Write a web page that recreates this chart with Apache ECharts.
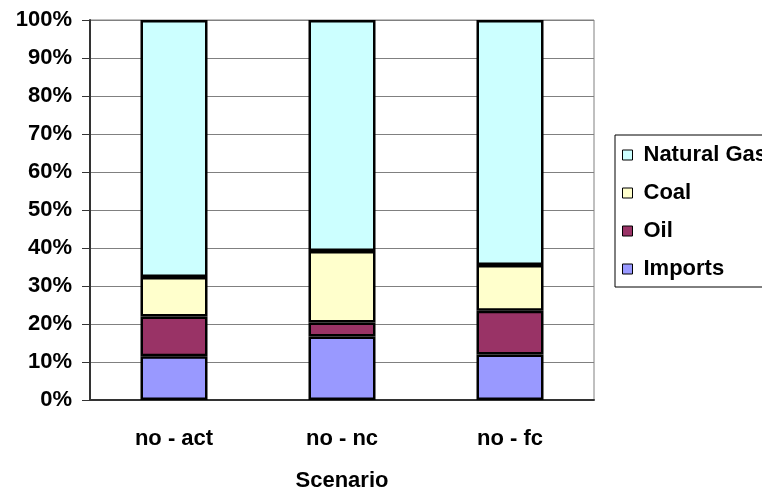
<!DOCTYPE html>
<html>
<head>
<meta charset="utf-8">
<script src="https://cdn.jsdelivr.net/npm/echarts@6/dist/echarts.min.js"></script>
<style>html,body{margin:0;padding:0;background:#fff;}#c{width:762px;height:497px;}</style>
</head>
<body>
<div id="c"></div>
<script>
const categories = ['no - act', 'no - nc', 'no - fc'];
const imports = [11.5, 16.7, 12.0];
const oil = [10.5, 3.7, 11.5];
const coal = [10.4, 18.8, 12.0];
const naturalGas = [67.6, 60.8, 64.5];
const yTicks = [0, 10, 20, 30, 40, 50, 60, 70, 80, 90, 100];

const font = 'Liberation Sans, Arial, sans-serif';
const chart = echarts.init(document.getElementById('c'));
function s(name, data, color) {
  return {
    name: name, type: 'bar', stack: 'total', data: data, barWidth: 67,
    itemStyle: { color: color, borderColor: '#000', borderWidth: 2.5 }
  };
}
chart.setOption({
  animation: false,
  grid: { left: 90, top: 20, width: 504, height: 383, show: true, borderColor: '#808080', borderWidth: 1 },
  legend: {
    orient: 'vertical', left: 615, top: 135,
    data: ['Natural Gas', 'Coal', 'Oil', 'Imports'],
    itemWidth: 10, itemHeight: 10, itemGap: 16,
    padding: [9, 40, 7, 7],
    borderColor: '#000', borderWidth: 1,
    icon: 'rect',
    itemStyle: { borderColor: '#000', borderWidth: 1 },
    textStyle: { fontFamily: font, fontWeight: 'bold', fontSize: 22, color: '#000', lineHeight: 22, padding: [0, 0, 0, 6] }
  },
  xAxis: {
    type: 'category', data: categories,
    name: 'Scenario', nameLocation: 'middle', nameGap: 70,
    nameTextStyle: { fontFamily: font, fontWeight: 'bold', fontSize: 22, color: '#000' },
    axisLine: { lineStyle: { color: '#333', width: 2 } },
    axisTick: { length: 8, lineStyle: { color: '#333' } },
    axisLabel: { margin: 28, fontFamily: font, fontWeight: 'bold', fontSize: 22, color: '#000' }
  },
  yAxis: {
    type: 'value', min: yTicks[0], max: yTicks[yTicks.length - 1], interval: 10,
    axisLine: { show: true, lineStyle: { color: '#333', width: 2 } },
    axisTick: { show: true, length: 8, lineStyle: { color: '#333' } },
    splitLine: { lineStyle: { color: '#808080', width: 1 } },
    axisLabel: { margin: 18, fontFamily: font, fontWeight: 'bold', fontSize: 22, color: '#000', formatter: '{value}%' }
  },
  series: [
    s('Imports', imports, '#9999FF'),
    s('Oil', oil, '#993366'),
    s('Coal', coal, '#FFFFCC'),
    s('Natural Gas', naturalGas, '#CCFFFF')
  ]
});
</script>
</body>
</html>
